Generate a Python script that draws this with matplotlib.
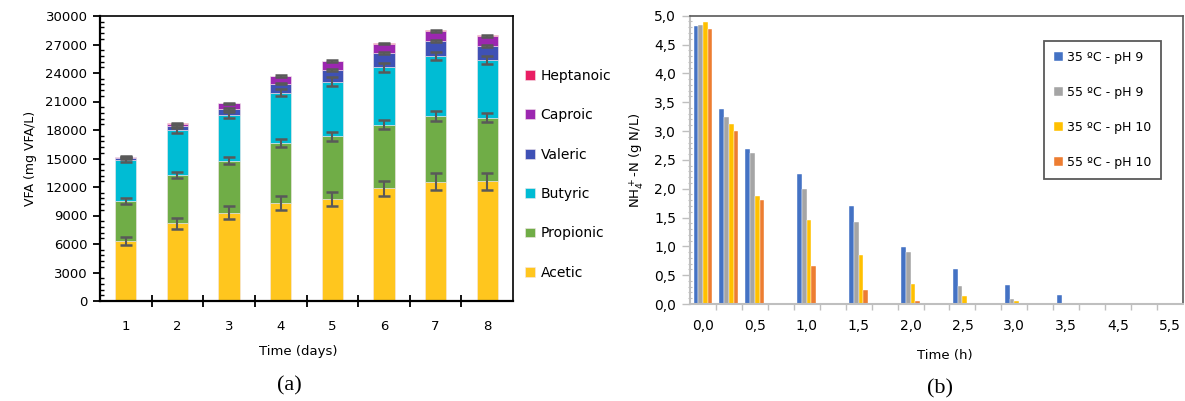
# VFA-produktion (a) och ammoniumkväve (b) sida vid sida
import numpy as np
import matplotlib
matplotlib.use("Agg")
import matplotlib.pyplot as plt
from matplotlib.ticker import MultipleLocator

nan = np.nan

# Data för (a), mg VFA/L per dag
days = [1, 2, 3, 4, 5, 6, 7, 8]
acetic = [6340, 8170, 9290, 10340, 10730, 11850, 12550, 12620]
propionic = [4180, 5110, 5470, 6310, 6590, 6690, 6940, 6690]
butyric = [4350, 4700, 4800, 5290, 5780, 6060, 6310, 6030]
valeric = [180, 420, 630, 950, 1190, 1510, 1580, 1510]
caproic = [110, 280, 600, 770, 950, 980, 1050, 1050]
heptanoic = [20, 40, 50, 60, 70, 60, 70, 70]

acetic_err = [440, 610, 665, 735, 735, 825, 875, 895]
propionic_err = [280, 350, 385, 420, 455, 475, 525, 490]
butyric_err = [280, 265, 300, 400, 455, 455, 440, 440]
valeric_err = [60, 80, 80, 100, 100, 100, 100, 100]
caproic_err = [60, 60, 80, 80, 80, 80, 80, 80]

# Data för (b), g N/L
time_h = [0.0, 0.25, 0.5, 0.75, 1.0, 1.25, 1.5, 1.75, 2.0, 2.25, 2.5,
          2.75, 3.0, 3.25, 3.5, 4.0, 4.5, 5.0, 5.5]
n_35_ph9 = [4.83, 3.38, 2.69, nan, 2.25, nan, 1.70, nan, 0.98, nan, 0.60,
            nan, 0.33, nan, 0.15, nan, 0.02, nan, 0.0]
n_55_ph9 = [4.84, 3.25, 2.62, nan, 1.99, nan, 1.42, nan, 0.90, nan, 0.32,
            nan, 0.09, nan, 0.0, nan, 0.0, nan, 0.0]
n_35_ph10 = [4.89, 3.12, 1.87, nan, 1.45, nan, 0.85, nan, 0.34, nan, 0.14,
             nan, 0.05, nan, 0.01, nan, 0.005, nan, 0.0]
n_55_ph10 = [4.77, 3.00, 1.81, nan, 0.66, nan, 0.24, nan, 0.05, nan, 0.0,
             nan, 0.0, nan, 0.0, nan, 0.0, nan, 0.0]

plt.rcParams["font.family"] = "DejaVu Sans"

fig = plt.figure(figsize=(11.85, 4.01), dpi=100)

# ---- (a) staplade staplar ----
ax1 = fig.add_axes([100 / 1185, 1 - 301 / 401, 413 / 1185, 285 / 401])

series = [
    ("Acetic", acetic, acetic_err, "#FFC61E"),
    ("Propionic", propionic, propionic_err, "#70AD47"),
    ("Butyric", butyric, butyric_err, "#00BCD4"),
    ("Valeric", valeric, valeric_err, "#3F51B5"),
    ("Caproic", caproic, caproic_err, "#9C27B0"),
    ("Heptanoic", heptanoic, None, "#E91E63"),
]

bottom = np.zeros(len(days))
handles = []
for name, vals, err, col in series:
    vals = np.array(vals, dtype=float)
    b = ax1.bar(days, vals, 0.41, bottom=bottom, color=col,
                edgecolor="#f3e6ea", linewidth=0.4, label=name, zorder=2)
    handles.append(b)
    top = bottom + vals
    if err is not None:
        ax1.errorbar(days, top, yerr=err, fmt="none", ecolor="#595959",
                     elinewidth=1.5, capsize=4.5, capthick=1.8, zorder=3)
    bottom = top

ax1.set_xlim(0.5, 8.5)
ax1.set_ylim(0, 30000)
ax1.set_yticks(np.arange(0, 30001, 3000))
ax1.yaxis.set_minor_locator(MultipleLocator(600))
ax1.set_xticks(days)
ax1.set_xticks(np.arange(1.5, 8.5, 1), minor=True)
ax1.tick_params(axis="x", which="major", length=0, labelsize=9.5, pad=14)
ax1.tick_params(axis="x", which="minor", direction="inout", length=8,
                width=1.3, color="black")
ax1.tick_params(axis="y", which="major", direction="out", length=5,
                width=1.3, labelsize=9.5, pad=4)
ax1.tick_params(axis="y", which="minor", direction="in", length=3, width=1)
for s in ["left", "bottom"]:
    ax1.spines[s].set_linewidth(1.6)
for s in ["top", "right"]:
    ax1.spines[s].set_linewidth(1.2)

ax1.set_ylabel("VFA (mg VFA/L)", fontsize=9, labelpad=6)
fig.text(298 / 1185, 1 - 352 / 401, "Time (days)", ha="center", va="center",
         fontsize=9.5)
fig.text(289 / 1185, 1 - 386 / 401, "(a)", ha="center", va="center",
         fontsize=16, family="Liberation Serif")

ax1.legend(handles[::-1], [s[0] for s in series][::-1], loc="upper left",
           bbox_to_anchor=(1.03, 0.815), frameon=False, fontsize=10,
           handlelength=0.7, handleheight=0.7, handletextpad=0.4,
           labelspacing=1.83, borderpad=0, borderaxespad=0)

# ---- (b) grupperade staplar ----
ax2 = fig.add_axes([690 / 1185, 1 - 304 / 401, 493 / 1185, 288.3 / 401])

x = np.arange(len(time_h))
w = 0.1825
groups = [
    ("35 ºC - pH 9", n_35_ph9, "#4472C4"),
    ("55 ºC - pH 9", n_55_ph9, "#A5A5A5"),
    ("35 ºC - pH 10", n_35_ph10, "#FFC000"),
    ("55 ºC - pH 10", n_55_ph10, "#ED7D31"),
]
for i, (name, vals, col) in enumerate(groups):
    ax2.bar(x + (i - 1.5) * w, vals, w, color=col, edgecolor="white",
            linewidth=0.3, label=name, zorder=2)

ax2.set_xlim(-0.5, len(time_h) - 0.5)
ax2.set_ylim(0, 5.0)
yt = np.arange(0, 5.01, 0.5)
ax2.set_yticks(yt)
ax2.set_yticklabels([f"{v:.1f}".replace(".", ",") for v in yt])
ax2.yaxis.set_minor_locator(MultipleLocator(0.1))
ax2.set_xticks(x[::2])
ax2.set_xticklabels([f"{t:.1f}".replace(".", ",") for t in time_h[::2]])
ax2.set_xticks(np.arange(0.5, len(time_h) - 0.5, 1), minor=True)
ax2.tick_params(axis="x", which="major", length=0, labelsize=10, pad=11)
ax2.tick_params(axis="x", which="minor", direction="out", length=4,
                width=1, color="#BFBFBF")
ax2.tick_params(axis="y", which="major", direction="out", length=6,
                width=1, color="#BFBFBF", labelsize=10, pad=4)
ax2.tick_params(axis="y", which="minor", direction="inout", length=3,
                width=0.8, color="#BFBFBF")
ax2.spines["left"].set_color("#BFBFBF")
ax2.spines["bottom"].set_color("#BFBFBF")
ax2.spines["left"].set_linewidth(1.5)
ax2.spines["bottom"].set_linewidth(1.5)
for s in ["top", "right"]:
    ax2.spines[s].set_color("#595959")
    ax2.spines[s].set_linewidth(1.2)

ax2.set_ylabel(r"NH$_4^+$-N (g N/L)", fontsize=9.5, labelpad=6)
fig.text(945 / 1185, 1 - 356 / 401, "Time (h)", ha="center", va="center",
         fontsize=9.5)
fig.text(940 / 1185, 1 - 389 / 401, "(b)", ha="center", va="center",
         fontsize=16, family="Liberation Serif")

leg = ax2.legend(loc="upper left", bbox_to_anchor=(0.718, 0.912),
                 fontsize=9, handlelength=0.75, handleheight=0.75,
                 handletextpad=0.3, labelspacing=1.75, borderpad=0.8,
                 borderaxespad=0, fancybox=False, framealpha=1)
leg.get_frame().set_edgecolor("#595959")
leg.get_frame().set_linewidth(1.3)

fig.savefig("out.png", dpi=100)
